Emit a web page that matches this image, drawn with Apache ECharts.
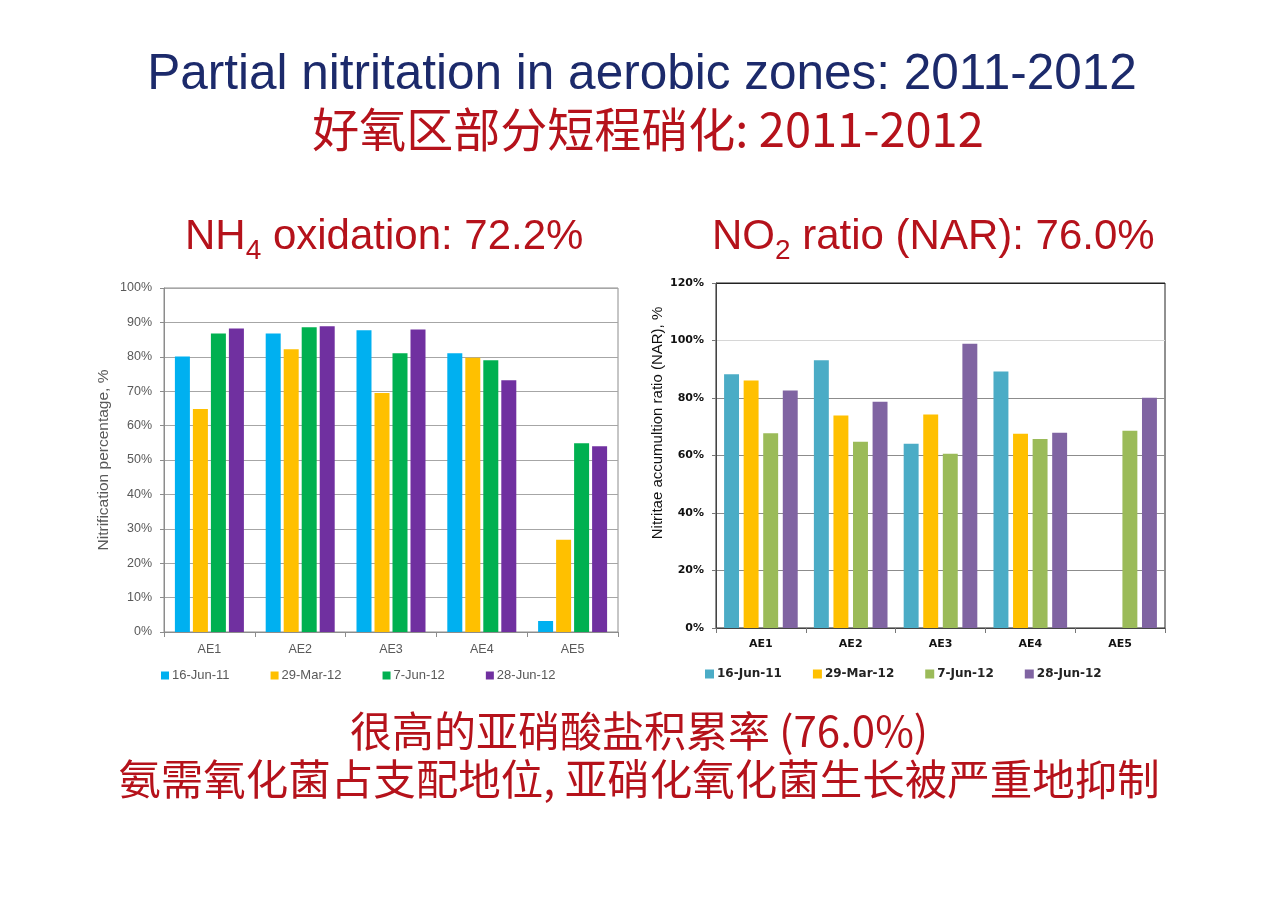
<!DOCTYPE html>
<html>
<head>
<meta charset="utf-8">
<script src="https://cdn.jsdelivr.net/npm/echarts@6/dist/echarts.min.js"></script>
<style>
  html, body { margin: 0; padding: 0; background: #ffffff; }
  #chart { width: 1280px; height: 904px; }
</style>
</head>
<body>
<div id="chart"></div>
<script>
// ---- data ----
var categories = ['AE1', 'AE2', 'AE3', 'AE4', 'AE5'];
var seriesNames = ['16-Jun-11', '29-Mar-12', '7-Jun-12', '28-Jun-12'];

// NH4 oxidation (nitrification percentage, %)
var nh4_16Jun11 = [80.1, 86.8, 87.7, 81.0, 3.2];
var nh4_29Mar12 = [64.8, 82.2, 69.5, 79.7, 26.8];
var nh4_7Jun12  = [86.8, 88.6, 81.0, 79.0, 54.9];
var nh4_28Jun12 = [88.2, 88.9, 87.9, 73.2, 54.0];

// Nitrite accumulation ratio (NAR, %)
var nar_16Jun11 = [88.3, 93.1, 64.1, 89.2, null];
var nar_29Mar12 = [86.1, 73.9, 74.3, 67.6, null];
var nar_7Jun12  = [67.7, 64.8, 60.6, 65.7, 68.6];
var nar_28Jun12 = [82.6, 78.7, 98.9, 67.9, 80.1];

var leftTicks = [0, 10, 20, 30, 40, 50, 60, 70, 80, 90, 100];
var rightTicks = [0, 20, 40, 60, 80, 100, 120];

// ---- styles ----
var leftColors = ['#00b0f0', '#ffc000', '#00b050', '#7030a0'];
var rightColors = ['#4bacc6', '#ffc000', '#9bbb59', '#8064a2'];
var RED = '#b5121b';
var NAVY = '#1c2a6b';
var LAT = '"Liberation Sans", Arial, sans-serif';
var CJK = '"Noto Sans CJK SC", sans-serif';
var VER = '"DejaVu Sans", Verdana, sans-serif';
var ZW = '\u200b';

var nh4Data = [nh4_16Jun11, nh4_29Mar12, nh4_7Jun12, nh4_28Jun12];
var narData = [nar_16Jun11, nar_29Mar12, nar_7Jun12, nar_28Jun12];

var series = [];
seriesNames.forEach(function (n, i) {
  series.push({
    type: 'bar', name: n, xAxisIndex: 0, yAxisIndex: 0,
    data: nh4Data[i], barGap: '20%', barCategoryGap: '24%',
    itemStyle: { color: leftColors[i] }
  });
});
seriesNames.forEach(function (n, i) {
  series.push({
    type: 'bar', name: n + ZW, xAxisIndex: 1, yAxisIndex: 1,
    data: narData[i], barGap: '31%', barCategoryGap: '18%',
    itemStyle: { color: rightColors[i] }
  });
});

var option = {
  animation: false,
  backgroundColor: '#ffffff',
  grid: [
    { left: 164, top: 288, width: 454, height: 344, show: true, borderColor: '#8c8c8c', borderWidth: 1 },
    { left: 716, top: 283, width: 449, height: 345, show: true, borderColor: '#222', borderWidth: 1 }
  ],
  xAxis: [
    {
      gridIndex: 0, type: 'category', data: categories,
      axisLine: { lineStyle: { color: '#8c8c8c' } },
      axisTick: { show: true, length: 5, lineStyle: { color: '#8c8c8c' } },
      axisLabel: { color: '#595959', fontFamily: LAT, fontSize: 12.5, margin: 11 }
    },
    {
      gridIndex: 1, type: 'category', data: categories,
      axisLine: { lineStyle: { color: '#444' } },
      axisTick: { show: true, length: 5, lineStyle: { color: '#777' } },
      axisLabel: { color: '#111', fontFamily: VER, fontWeight: 'bold', fontSize: 11, margin: 11 }
    }
  ],
  yAxis: [
    {
      gridIndex: 0, type: 'value', min: 0, max: 100, interval: 10,
      name: 'Nitrification percentage, %', nameLocation: 'middle', nameGap: 52,
      nameTextStyle: { color: '#595959', fontFamily: LAT, fontSize: 15.5 },
      axisLine: { show: true, lineStyle: { color: '#8c8c8c' } },
      axisTick: { show: true, length: 4, inside: false, lineStyle: { color: '#8c8c8c' } },
      axisLabel: { color: '#595959', fontFamily: LAT, fontSize: 12.5, margin: 12,
        formatter: function (v) { return v + '%'; } },
      splitLine: { show: true, lineStyle: { color: '#a6a6a6', width: 1 } }
    },
    {
      gridIndex: 1, type: 'value', min: 0, max: 120, interval: 20,
      axisLine: { show: true, lineStyle: { color: '#444' } },
      axisTick: { show: true, length: 4, lineStyle: { color: '#777' } },
      axisLabel: { color: '#111', fontFamily: VER, fontWeight: 'bold', fontSize: 11, margin: 12,
        formatter: function (v) { return v + '%'; } },
      splitLine: { show: true, lineStyle: { color: ['#8c8c8c', '#8c8c8c', '#8c8c8c', '#8c8c8c', '#8c8c8c', '#d6d6d6', '#222'], width: 1 } }
    }
  ],
  legend: [
    {
      data: seriesNames, left: 156, top: 664, itemWidth: 8, itemHeight: 8, itemGap: 41,
      icon: 'rect', textStyle: { color: '#595959', fontFamily: LAT, fontSize: 13, padding: [0, 0, 0, -2] }
    },
    {
      data: seriesNames.map(function (n) { return n + ZW; }),
      formatter: function (n) { return n.replace(ZW, ''); },
      left: 700, top: 663, itemWidth: 9, itemHeight: 9, itemGap: 31,
      icon: 'rect', textStyle: { color: '#222', fontFamily: VER, fontWeight: 'bold', fontSize: 12, padding: [0, 0, 0, -2] }
    }
  ],
  series: series,
  graphic: [
    { type: 'text', x: 642, y: 75, style: { text: 'Partial nitritation in aerobic zones: 2011-2012',
      fontFamily: LAT, fontSize: 49.5, fill: NAVY, align: 'center', verticalAlign: 'middle' } },
    { type: 'text', x: 648, y: 129, style: { text: '好氧区部分短程硝化: 2011-2012',
      fontFamily: CJK, fontSize: 47, fill: RED, align: 'center', verticalAlign: 'middle' } },
    { type: 'text', x: 185, y: 216, style: {
      text: '{m|NH}{s|4}{m| oxidation: 72.2%}', align: 'left', verticalAlign: 'top',
      rich: {
        m: { fontFamily: LAT, fontSize: 42, lineHeight: 42, fill: RED, verticalAlign: 'top' },
        s: { fontFamily: LAT, fontSize: 28, lineHeight: 28, fill: RED, verticalAlign: 'top', padding: [21, 0, 0, 0] }
      } } },
    { type: 'text', x: 712, y: 216, style: {
      text: '{m|NO}{s|2}{m| ratio (NAR): 76.0%}', align: 'left', verticalAlign: 'top',
      rich: {
        m: { fontFamily: LAT, fontSize: 42, lineHeight: 42, fill: RED, verticalAlign: 'top' },
        s: { fontFamily: LAT, fontSize: 28, lineHeight: 28, fill: RED, verticalAlign: 'top', padding: [21, 0, 0, 0] }
      } } },
    { type: 'text', x: 658, y: 423, rotation: Math.PI / 2, style: {
      text: 'Nitritae accumultion ratio (NAR), %', fontFamily: LAT, fontSize: 15, fill: '#111',
      align: 'center', verticalAlign: 'middle' } },
    { type: 'text', x: 639, y: 731, style: { text: '很高的亚硝酸盐积累率 (76.0%)',
      fontFamily: CJK, fontSize: 42, fill: RED, align: 'center', verticalAlign: 'middle' } },
    { type: 'text', x: 639, y: 779, style: { text: '氨需氧化菌占支配地位, 亚硝化氧化菌生长被严重地抑制',
      fontFamily: CJK, fontSize: 42.5, fill: RED, align: 'center', verticalAlign: 'middle' } }
  ]
};

var chart = echarts.init(document.getElementById('chart'), null, { renderer: 'canvas' });
chart.setOption(option);
</script>
</body>
</html>
